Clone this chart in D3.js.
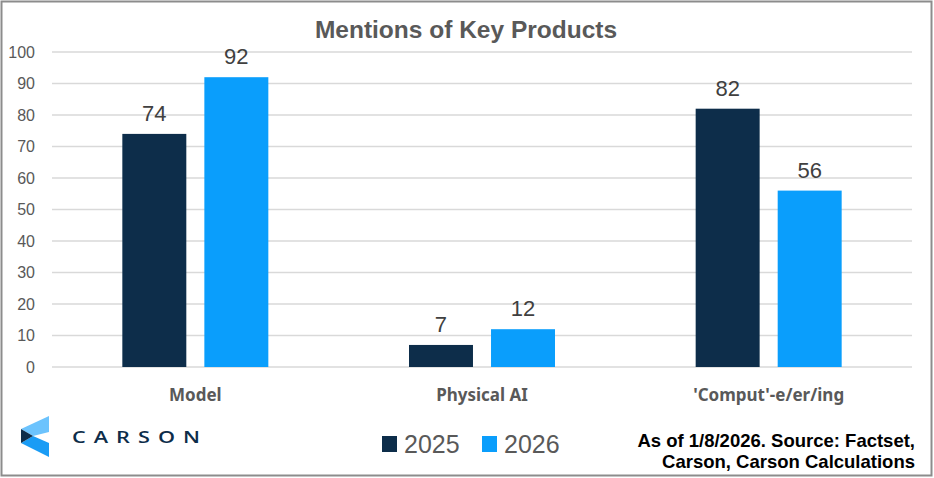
<!DOCTYPE html>
<html><head><meta charset="utf-8">
<script src="https://cdn.jsdelivr.net/npm/d3@7"></script>
<style>html,body{margin:0;padding:0;background:#fff;}svg{display:block;}</style>
</head><body>
<svg id="c" width="934" height="478"></svg>
<script>
const categories = ["Model", "Physical AI", "'Comput'-e/er/ing"];
const seriesNames = ["2025", "2026"];
const values2025 = [74, 7, 82];
const values2026 = [92, 12, 56];
const yTicks = [0, 10, 20, 30, 40, 50, 60, 70, 80, 90, 100];
const colors = ["#0d2d4a", "#0a9efc"];
const title = "Mentions of Key Products";
const sourceLines = ["As of 1/8/2026. Source: Factset,", "Carson, Carson Calculations"];

const svg = d3.select("#c");
svg.append("rect").attr("x",1.5).attr("y",1.5).attr("width",930).attr("height",474)
  .attr("fill","#fff").attr("stroke","#8c8c8c").attr("stroke-width",2);

const x0 = d3.scaleBand().domain(categories).range([52, 912]).padding(0);
const groupW = 146;
const x1 = d3.scaleBand().domain(seriesNames)
  .range([(x0.bandwidth()-groupW)/2, (x0.bandwidth()+groupW)/2]).paddingInner(0.22).paddingOuter(0);
const y = d3.scaleLinear().domain([0, 100]).range([367, 52]);

// gridlines
svg.append("g").selectAll("line").data(yTicks).join("line")
  .attr("x1", 52).attr("x2", 912)
  .attr("y1", d => y(d)).attr("y2", d => y(d))
  .attr("stroke", "#d9d9d9").attr("stroke-width", 1.3);

// y axis labels
const yAxis = d3.axisLeft(y).tickValues(yTicks).tickSize(0).tickPadding(0);
const ga = svg.append("g").attr("transform", "translate(35,0)").call(yAxis);
ga.select(".domain").remove();
ga.selectAll("text").attr("fill", "#595959").style("font-family", "'Liberation Sans', Arial, sans-serif").style("font-size", "16px");

// bars
const data = categories.map((c, i) => ({cat: c, vals: [values2025[i], values2026[i]]}));
const groups = svg.append("g").selectAll("g").data(data).join("g")
  .attr("transform", d => `translate(${x0(d.cat)},0)`);
groups.selectAll("rect").data(d => d.vals.map((v, j) => ({s: seriesNames[j], v, j})))
  .join("rect")
  .attr("x", d => x1(d.s)).attr("width", x1.bandwidth())
  .attr("y", d => y(d.v)).attr("height", d => y(0) - y(d.v))
  .attr("fill", d => colors[d.j]);
groups.selectAll("text.lbl").data(d => d.vals.map((v, j) => ({s: seriesNames[j], v, j})))
  .join("text").attr("class", "lbl")
  .attr("x", d => x1(d.s) + x1.bandwidth()/2).attr("y", d => y(d.v) - 13)
  .attr("text-anchor", "middle").attr("fill", "#404040")
  .style("font-family", "'Liberation Sans', Arial, sans-serif").style("font-size", "22px")
  .text(d => d.v);

// category labels
svg.append("g").selectAll("text").data(categories).join("text")
  .attr("x", d => x0(d) + x0.bandwidth()/2).attr("y", 401)
  .attr("text-anchor", "middle").attr("fill", "#595959")
  .style("font-family", "'Noto Sans', sans-serif").style("font-weight", "bold").style("font-size", "17px")
  .text(d => d);

// title
svg.append("text").attr("x", 466).attr("y", 38).attr("text-anchor", "middle")
  .attr("fill", "#595959").style("font-family", "'Liberation Sans', Arial, sans-serif")
  .style("font-weight", "bold").style("font-size", "24.5px").text(title);

// legend
const leg = svg.append("g");
const legX = [382, 482];
seriesNames.forEach((s, i) => {
  leg.append("rect").attr("x", legX[i]).attr("y", 436).attr("width", 15).attr("height", 16).attr("fill", colors[i]);
  leg.append("text").attr("x", legX[i] + 22).attr("y", 453).attr("fill", "#595959")
    .style("font-family", "'Liberation Sans', Arial, sans-serif").style("font-size", "25px").text(s);
});

// source
sourceLines.forEach((t, i) => {
  svg.append("text").attr("x", 915).attr("y", 447 + i * 21).attr("text-anchor", "end")
    .attr("fill", "#000").style("font-family", "'Liberation Sans', Arial, sans-serif")
    .style("font-weight", "bold").style("font-size", "18.5px").text(t);
});

// logo
const logo = svg.append("g");
logo.append("polygon").attr("points", "21,429 49,416 49,432 33,436").attr("fill", "#6cc3fd");
logo.append("polygon").attr("points", "21,443 33,436 49,443 49,457").attr("fill", "#1a9cf5");
logo.append("polygon").attr("points", "21,429 33,436 21,443").attr("fill", "#0d2d4a");
logo.append("g").attr("transform", "translate(72,443) scale(1.4,1)")
  .append("text").attr("x", 0).attr("y", 0).attr("fill", "#0d2d4a")
  .attr("textLength", 128/1.4).attr("lengthAdjust", "spacing")
  .style("font-family", "'Open Sans', sans-serif").style("font-weight", "600").style("font-size", "15.5px")
  .text("CARSON");
</script>
</body></html>
